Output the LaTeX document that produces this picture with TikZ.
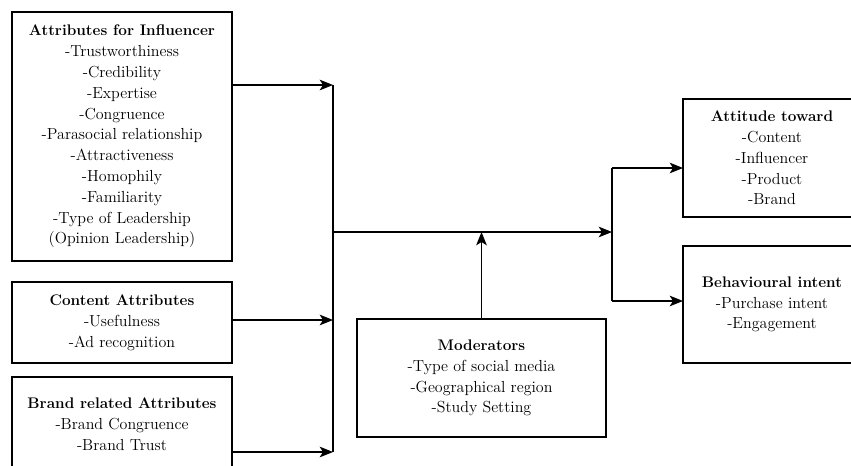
\documentclass[tikz,border=0pt]{standalone}
\usetikzlibrary{arrows.meta,positioning}

\newcommand{\hd}[1]{{\fontsize{11.5}{15.6}\selectfont\bfseries #1}}

\begin{document}
\begin{tikzpicture}[
		x=0.75pt,y=-0.75pt,
		box/.style={draw=black,line width=1pt,inner sep=0pt,outer sep=0pt,align=center,font=\fontsize{12}{15.6}\selectfont},
		arr/.style={-{Stealth[length=10pt,width=8pt,inset=2.5pt]},line width=1pt},
		ln/.style={line width=1pt}
		]
		
		\useasboundingbox (0,0) rectangle (851,465);
		\clip (0,0) rectangle (851,465);
		
		% --- Input boxes on the left
		\node[box,minimum width=165pt,minimum height=186.75pt] (infl) at (122,136.5)
		{\hd{Attributes for Influencer}\\-Trustworthiness\\-Credibility\\-Expertise\\-Congruence\\-Parasocial relationship\\-Attractiveness\\-Homophily\\-Familiarity\\-Type of Leadership\\(Opinion Leadership)};
		\node[box,minimum width=165pt,minimum height=60.75pt] (cont) at (122,322.5)
		{\hd{Content Attributes}\\-Usefulness\\-Ad recognition};
		\node[box,minimum width=165pt,minimum height=70.5pt] (brand) at (122,424)
		{\hd{Brand related Attributes}\\-Brand Congruence\\-Brand Trust};
		
		% --- Moderators
		\node[box,minimum width=186.75pt,minimum height=88.5pt] (mod) at (481.5,378)
		{\hd{Moderators}\\-Type of social media\\-Geographical region\\-Study Setting};
		
		% --- Outcomes on the right
		\node[box,minimum width=133.5pt,minimum height=88.5pt] (att) at (772,158)
		{\hd{Attitude toward}\\-Content\\-Influencer\\-Product\\-Brand};
		\node[box,minimum width=133.5pt,minimum height=87.75pt] (beh) at (772,304.5)
		{\hd{Behavioural intent}\\-Purchase intent\\-Engagement};
		
		% --- Collector and split points
		\coordinate (c1) at (333,85);
		\coordinate (c2) at (333,320);
		\coordinate (c3) at (333,452);
		\coordinate (jn) at (333,232);
		\coordinate (sp) at (612,232);
		\coordinate (t1) at (612,168);
		\coordinate (t2) at (612,301);
		
		\draw[arr] (infl.east |- c1) -- (c1);
		\draw[arr] (cont.east |- c2) -- (c2);
		\draw[arr] (brand.east |- c3) -- (c3);
		\draw[ln] (c1) -- (c3);
		
		\draw[arr] (jn) -- (sp);
		\draw[arr] (mod.north) -- (mod.north |- jn);
		
		\draw[ln] (t1) -- (t2);
		\draw[arr] (t1) -- (att.west |- t1);
		\draw[arr] (t2) -- (beh.west |- t2);
		
	\end{tikzpicture}
\end{document}
